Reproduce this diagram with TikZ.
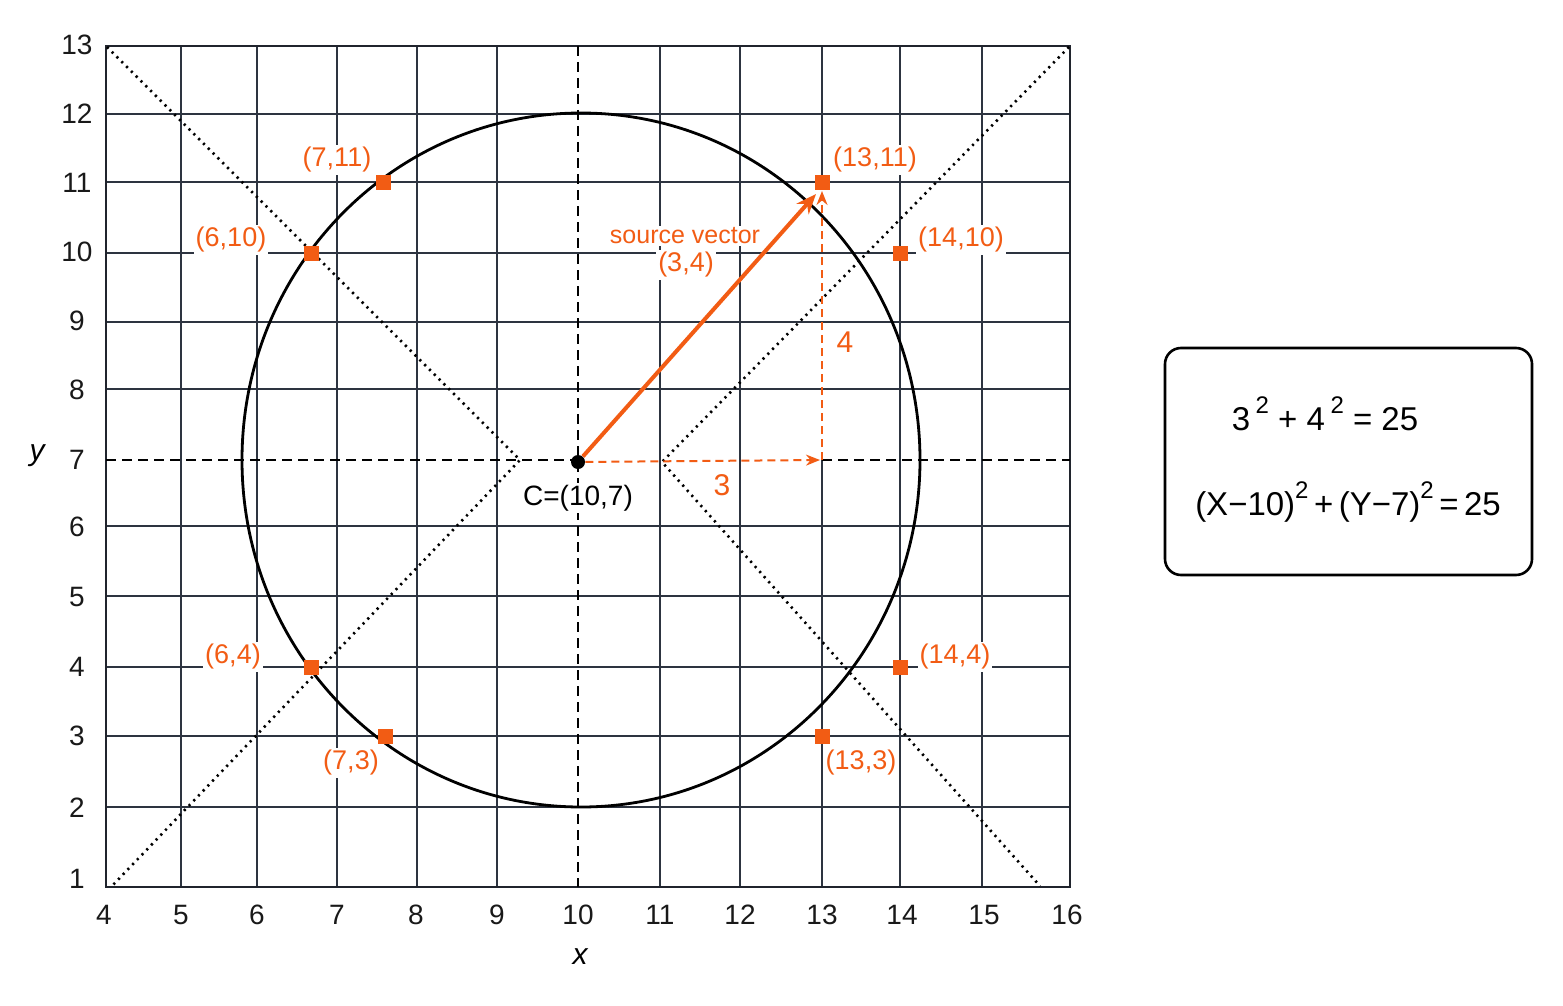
\documentclass[tikz,border=0pt]{standalone}
\usepackage{fontspec}
\setmainfont{Liberation Sans}
\usetikzlibrary{arrows.meta}
\definecolor{org}{RGB}{242,92,20}
\definecolor{gridc}{RGB}{45,52,64}
\newcommand\sqtwo{\raisebox{0.5em}{\fontsize{12}{12}\selectfont 2}}
\tikzset{
 gridline/.style={draw=gridc, line width=0.9pt},
 frameline/.style={draw=gridc!70!black, line width=1.4pt},
 axdash/.style={draw=black, line width=1pt, dash pattern=on 5pt off 3pt},
 dotline/.style={draw=black, line width=1.3pt, dash pattern=on 1.1pt off 2.3pt},
 ptsq/.style={rectangle, fill=org, minimum size=7.5pt, inner sep=0pt},
 olab/.style={text=org, font=\fontsize{13.5}{16}\selectfont, fill=white, inner sep=1pt},
 tick/.style={font=\fontsize{14}{16}\selectfont, text=black!90},
 vec/.style={draw=org, line width=2pt, -{Stealth[length=10pt,width=8pt]}},
 comp/.style={draw=org, line width=1pt, dash pattern=on 4pt off 2.5pt, -{Stealth[length=7pt,width=5.5pt]}},
 eqbox/.style={draw=black, line width=1.3pt, rounded corners=8pt, minimum width=183.5pt, minimum height=113.5pt},
 eqtext/.style={font=\fontsize{16.5}{20}\selectfont},
 axlab/.style={font=\fontsize{15}{18}\selectfont\itshape},
}
\begin{document}
\begin{tikzpicture}[x=0.5pt,y=-0.5pt]
\useasboundingbox[fill=white] (0,0) rectangle (1563,1006);
% grid
\foreach \v in {181,257,337,417,497,660,740,900,982}
  \draw[gridline] (\v,46) -- (\v,887);
\draw[gridline] (822,46) -- (822,182);
\draw[gridline] (822,460) -- (822,887);
\foreach \h in {114,182,253,322,389,526,596,667,736,807}
  \draw[gridline] (106,\h) -- (1070,\h);
\draw[frameline] (106,46) rectangle (1070,887);
% dashed axes through centre
\draw[axdash] (106,460) -- (578,460);
\draw[axdash] (822,460) -- (1070,460);
\draw[axdash] (578,46) -- (578,887);
% diagonals
\coordinate (dl) at (520,460);
\coordinate (dr) at (662,462);
\draw[dotline] (107,47) -- (dl) -- (112,886);
\draw[dotline] (1069,47) -- (dr) -- (1040,886);
% circle
\draw[line width=1.4pt] (581,460) ellipse [x radius=339, y radius=347];
% tick labels
\foreach \n/\p in {4/104,5/181,6/257,7/337,8/416,9/497,10/578,11/660,12/740,13/822,14/902,15/984,16/1067}
  \node[tick] (xt\n) at (\p,915) {\n};
\foreach \n/\p in {13/45,12/114,11/183,10/252,9/321,8/390,7/460,6/527,5/597,4/667,3/736,2/808,1/879}
  \node[tick] (yt\n) at (77,\p) {\n};
\node[axlab] (xlab) at (580,957) {x};
\node[axlab] (ylab) at (37,456) {y};
% centre
\node[circle, fill=black, minimum size=7pt, inner sep=0pt] (C) at (578,462) {};
\node[font=\fontsize{14}{16}\selectfont, fill=white, inner sep=1pt] (Clab) at (578,498) {C=(10,7)};
% points
\node[ptsq] (p711) at (383,182) {};
\node[ptsq] (p610) at (311,253) {};
\node[ptsq] (p1410) at (900,253) {};
\node[ptsq] (p1311) at (822,182) {};
\node[ptsq] (p64) at (311,667) {};
\node[ptsq] (p73) at (385,736) {};
\node[ptsq] (p133) at (822,736) {};
\node[ptsq] (p144) at (900,667) {};
\node[olab] (l711) at (337,160) {(7,11)};
\node[olab] (l610) at (231,240) {(6,10)};
\node[olab] (l1311) at (875,160) {(13,11)};
\node[olab] (l1410) at (961,240) {(14,10)};
\node[olab] (l64) at (233,657) {(6,4)};
\node[olab] (l73) at (351,763) {(7,3)};
\node[olab] (l133) at (861,763) {(13,3)};
\node[olab] (l144) at (955,657) {(14,4)};
% vectors
\coordinate (tipA) at (816,194);
\coordinate (tipH) at (820,460);
\coordinate (baseV) at (822,460);
\coordinate (tipV) at (822,191);
\draw[vec] (C) -- (tipA);
\draw[comp] (C) -- (tipH);
\draw[comp] (baseV) -- (tipV);
\node[olab, font=\fontsize{12.5}{14}\selectfont] (sv) at (685,236) {source vector};
\node[olab] (sv2) at (686,265) {(3,4)};
\node[olab, font=\fontsize{15}{18}\selectfont, fill=none] (l3) at (722,485) {3};
\node[olab, font=\fontsize{15}{18}\selectfont, fill=none] (l4) at (845,342) {4};
% equation box
\node[eqbox] (box) at (1348.5,461.5) {};
\node[eqtext] (eq1) at (1325,414) {3\,\sqtwo\ + 4\,\sqtwo\ = 25};
\node[eqtext] (eq2) at (1348,502) {(X−10)\sqtwo\,+\,(Y−7)\sqtwo\,=\,25};
\end{tikzpicture}
\end{document}
